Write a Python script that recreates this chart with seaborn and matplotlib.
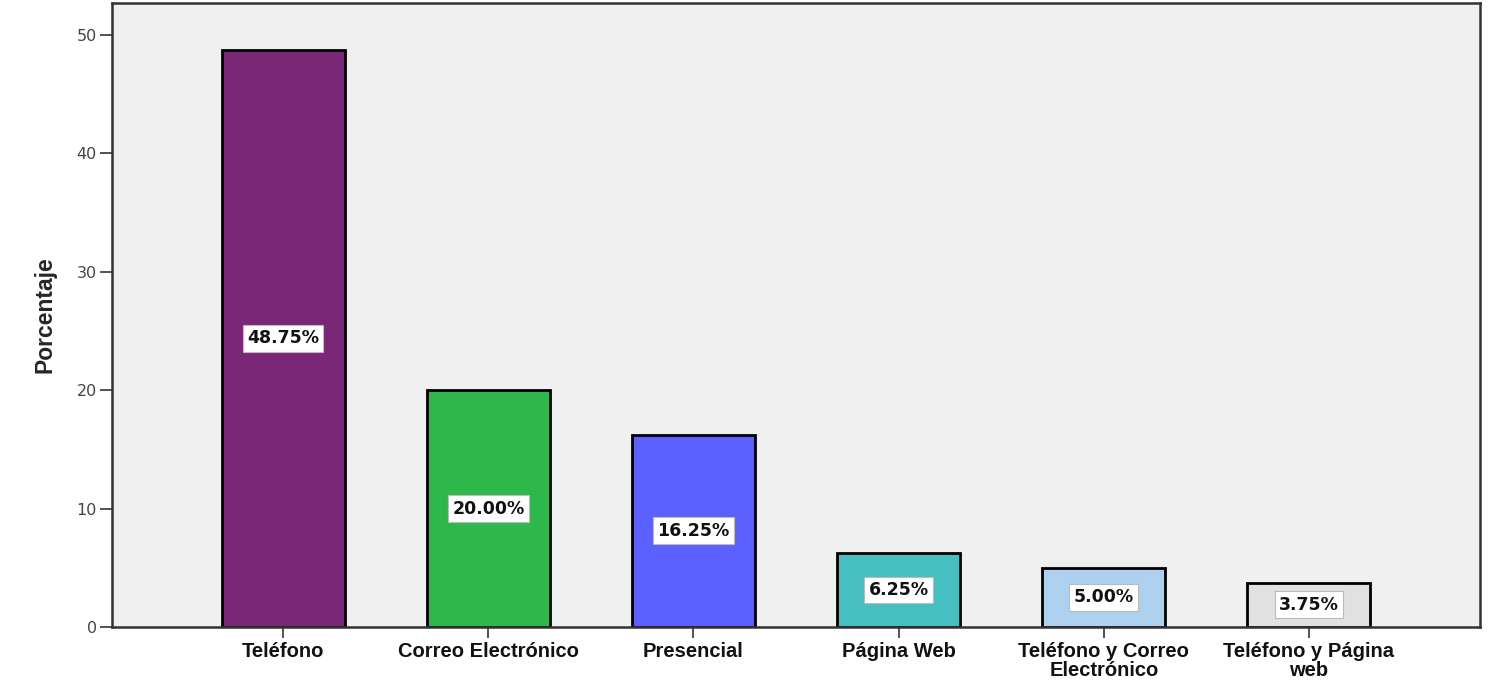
import matplotlib
matplotlib.use("Agg")
import matplotlib.pyplot as plt
import seaborn as sns
import pandas as pd

categories = ["Teléfono", "Correo Electrónico", "Presencial", "Página Web",
              "Teléfono y Correo\nElectrónico", "Teléfono y Página\nweb"]
values = [48.75, 20.00, 16.25, 6.25, 5.00, 3.75]
colors = ["#7B2777", "#2EB84B", "#5C60FF", "#46BFC1", "#ADD1EF", "#E1E1E1"]
yticks = [0, 10, 20, 30, 40, 50]

sns.set_style("white")
plt.rcParams["font.family"] = ["Liberation Sans", "DejaVu Sans"]

df = pd.DataFrame({"cat": categories, "val": values})

fig = plt.figure(figsize=(14.95, 6.9), dpi=100)
ax = fig.add_axes([0.0749, 0.0913, 0.9151, 0.9044])
ax.set_facecolor("#F0F0F0")

sns.barplot(data=df, x="cat", y="val", hue="cat", palette=colors, legend=False,
            width=0.6, edgecolor="black", linewidth=2, ax=ax, saturation=1)

for i, v in enumerate(values):
    ax.text(i, v / 2, f"{v:.2f}%", ha="center", va="center", fontsize=12.5,
            fontweight="bold", color="#111111", family="DejaVu Sans",
            bbox=dict(boxstyle="square,pad=0.25", facecolor="white",
                      edgecolor="#BBBBBB", linewidth=0.8))

ax.set_xlim(-0.834, 5.834)
ax.set_ylim(0, 52.7)
ax.set_yticks(yticks)
ax.set_yticklabels([str(t) for t in yticks], fontsize=11.5, color="#444444",
                   family="DejaVu Sans")
ax.set_xticks(range(len(categories)))
ax.set_xticklabels(categories, fontsize=14.5, fontweight="bold",
                   color="#111111", linespacing=0.95)
ax.set_xlabel("")
ax.set_ylabel("Porcentaje", fontsize=16.5, fontweight="bold", labelpad=14)

ax.tick_params(axis="y", direction="out", length=9, width=1.2, color="#333333", pad=2, left=True)
ax.tick_params(axis="x", direction="out", length=8, width=1.2, color="#333333", pad=3, bottom=True)
for s in ax.spines.values():
    s.set_visible(True)
    s.set_color("#333333")
    s.set_linewidth(1.8)

fig.savefig("out.png", dpi=100)
